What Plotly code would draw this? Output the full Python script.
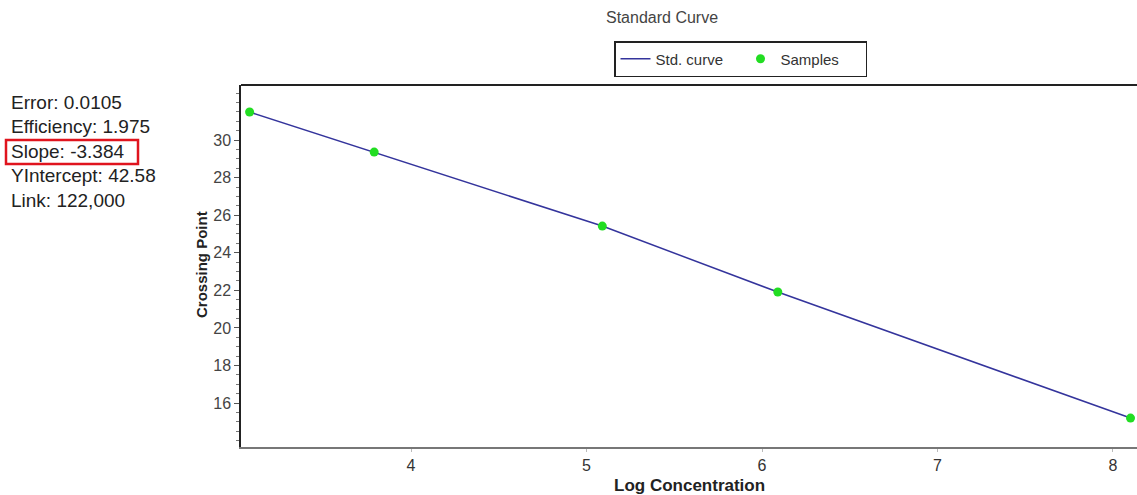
import plotly.graph_objects as go

# readings
log_conc = [3.08, 3.79, 5.09, 6.09, 8.10]
crossing_point = [31.49, 29.36, 25.42, 21.91, 15.20]

curve_x = [3.08, 3.79, 5.09, 6.09, 8.10]
curve_y = [31.49, 29.36, 25.42, 21.91, 15.20]

stats_lines = [
    "Error: 0.0105",
    "Efficiency: 1.975",
    "Slope: -3.384",
    "YIntercept: 42.58",
    "Link: 122,000",
]

x_ticks = [4, 5, 6, 7, 8]
y_ticks = [16, 18, 20, 22, 24, 26, 28, 30]

W, H = 1137, 495
L, T, R, B = 241, 85, 0, 48
PW, PH = W - L - R, H - T - B
FONT = "Arial, Liberation Sans, sans-serif"


def px(x):
    return (x - L) / PW


def py(y):
    return (H - B - y) / PH


fig = go.Figure()
fig.add_trace(go.Scatter(
    x=curve_x, y=curve_y, mode="lines", name="Std. curve",
    line=dict(color="#34349c", width=1.5),
))
fig.add_trace(go.Scatter(
    x=log_conc, y=crossing_point, mode="markers", name="Samples",
    marker=dict(color="#22dd22", size=9),
))

for i, txt in enumerate(stats_lines):
    fig.add_annotation(
        text=txt, xref="paper", yref="paper", x=px(9), y=py(102 + i * 24.5),
        xanchor="left", yanchor="middle", showarrow=False,
        font=dict(family=FONT, size=19, color="#222"),
    )

fig.add_shape(
    type="rect", xref="paper", yref="paper",
    x0=px(6), x1=px(138), y0=py(164), y1=py(140),
    line=dict(color="#e0141e", width=2.5),
)

fig.add_annotation(
    text="Standard Curve", xref="paper", yref="paper", x=px(662), y=py(17),
    xanchor="center", yanchor="middle", showarrow=False,
    font=dict(family=FONT, size=16, color="#444"),
)

# axis titles placed by hand
fig.add_annotation(
    text="<b>Log Concentration</b>", xref="paper", yref="paper", x=px(689), y=py(485),
    xanchor="center", yanchor="middle", showarrow=False,
    font=dict(family=FONT, size=17, color="#222"),
)
fig.add_annotation(
    text="<b>Crossing Point</b>", xref="paper", yref="paper", x=px(201), y=py(265),
    xanchor="center", yanchor="middle", showarrow=False, textangle=-90,
    font=dict(family=FONT, size=15, color="#222"),
)

fig.update_layout(
    width=W, height=H,
    margin=dict(l=L, r=R, t=T, b=B),
    plot_bgcolor="white", paper_bgcolor="white",
    showlegend=True,
    legend=dict(
        orientation="h", x=px(614), y=py(41), xanchor="left", yanchor="top",
        bordercolor="#222", borderwidth=1.5, bgcolor="white",
        font=dict(family=FONT, size=15, color="#333"),
        itemwidth=30, entrywidth=80, entrywidthmode="pixels",
    ),
    xaxis=dict(
        range=[3.031, 8.137], tickvals=x_ticks, showgrid=False, zeroline=False,
        showline=True, linecolor="#777", linewidth=2,
        ticks="outside", ticklen=3, tickcolor="#bbb",
        tickfont=dict(family=FONT, size=16, color="#333"),
    ),
    yaxis=dict(
        range=[13.66, 32.93], tickvals=y_ticks, showgrid=False, zeroline=False,
        showline=True, linecolor="#222", linewidth=1.5,
        ticks="outside", ticklen=5, tickcolor="#555",
        minor=dict(dtick=0.5, ticks="outside", ticklen=3, tickcolor="#777"),
        tickfont=dict(family=FONT, size=16, color="#444"),
    ),
)

# top border of the plot frame
fig.add_shape(type="line", xref="paper", yref="paper", x0=0, x1=1, y0=1, y1=1,
              line=dict(color="#222", width=2))

fig.write_html(
    "out.html",
    config={"displayModeBar": False},
    post_script="document.body.style.margin='0px';",
)
